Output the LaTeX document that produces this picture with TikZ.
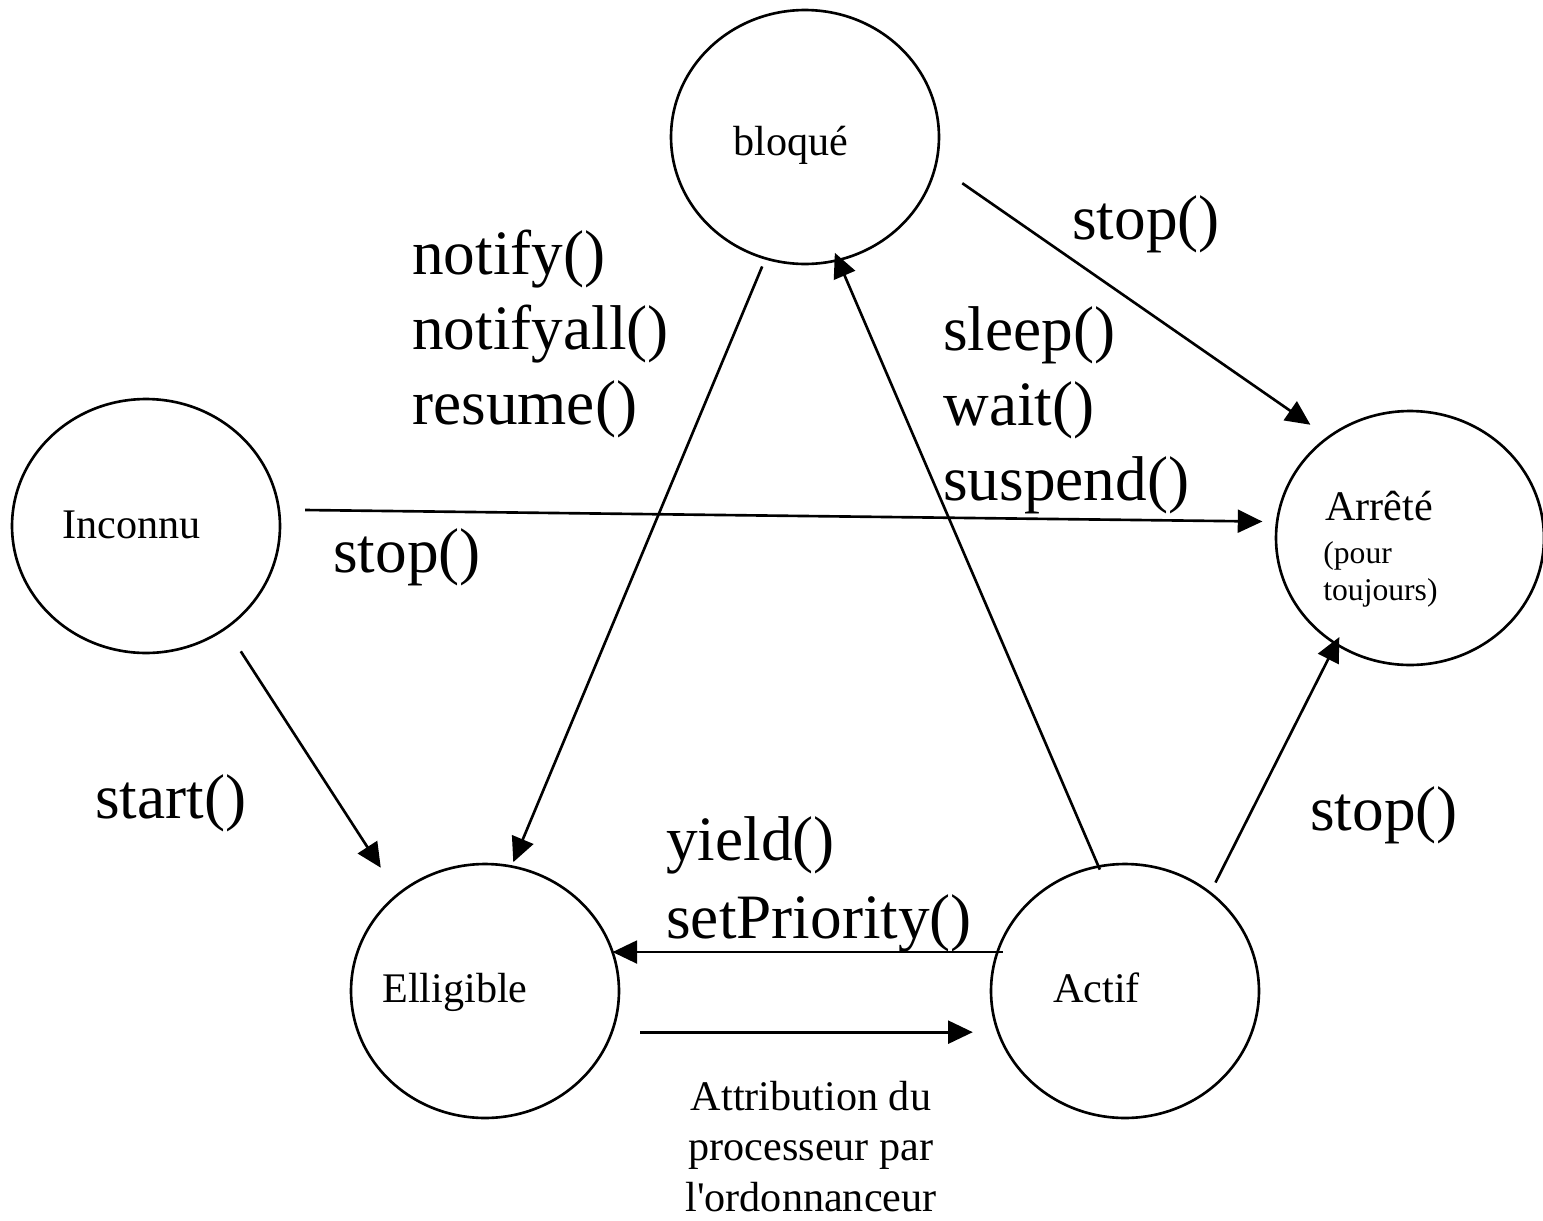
\documentclass[tikz,border=0pt]{standalone}
\usepackage{fontspec}
\setmainfont{Liberation Serif}
\usetikzlibrary{arrows.meta,shapes.geometric}
\begin{document}
\begin{tikzpicture}[x=0.02cm,y=-0.02cm,
  stateshape/.style={draw, ellipse, line width=1.5pt, minimum width=5.36cm,
    minimum height=5.08cm, inner sep=0pt, outer sep=0pt},
  statename/.style={anchor=base west, inner sep=0pt, font=\fontsize{24}{28}\selectfont},
  smallnote/.style={anchor=base west, inner sep=0pt, align=left, font=\fontsize{18}{21}\selectfont},
  method/.style={anchor=base west, inner sep=0pt, align=left, font=\fontsize{36}{42.5}\selectfont},
  caption/.style={anchor=base, inner sep=0pt, align=center, font=\fontsize{24}{28.5}\selectfont},
  trans/.style={line width=1.5pt, -{Triangle[length=14pt,width=13pt]}},
]
\path[use as bounding box] (0,0) rectangle (1543,1221);

% states
\node[stateshape] (bloque)    at (805,137) {};
\node[stateshape] (inconnu)   at (146,526) {};
\node[stateshape] (arrete)    at (1410,538) {};
\node[stateshape] (elligible) at (485,991) {};
\node[stateshape] (actif)     at (1125,991) {};

% state names (multi-line nodes sit on their last baseline)
\node[statename] (bloque-t)    at (733,155)  {bloqué};
\node[statename] (inconnu-t)   at (62,538)   {Inconnu};
\node[statename] (arrete-t)    at (1325,520) {Arrêté};
\node[smallnote] (arrete-n)    at (1323,600) {(pour\\toujours)};
\node[statename] (elligible-t) at (382,1002) {Elligible};
\node[statename] (actif-t)     at (1053,1002) {Actif};

% transitions
\draw[trans, shorten <=5.0pt, shorten >=2.7pt] (bloque.252.9) -- (elligible.78.2);
\draw[trans, shorten <=-1.9pt, shorten >=-4.5pt] (actif.102.8) -- (bloque.-75.4);
\draw[trans, shorten <=18.4pt, shorten >=12.5pt] (bloque.-12.8) -- (arrete.129.2);
\draw[trans, shorten <=15.0pt, shorten >=8.4pt] (inconnu.7.9) -- (arrete.173.7);
\draw[trans, shorten <=15.8pt, shorten >=18.1pt] (inconnu.-52.5) -- (elligible.132.3);
\draw[trans, shorten <=6.7pt, shorten >=-4.3pt] (actif.49.3) -- (arrete.235.8);
\draw[trans, shorten <=-3.1pt] (actif.163.0) -- (elligible.17.0);
\draw[trans, shorten <=16.2pt, shorten >=14.5pt] (elligible.-18.4) -- (actif.198.4);

% transition labels
\node[method] (l-notify)  at (412,424)  {notify()\\notifyall()\\resume()};
\node[method] (l-sleep)   at (943,500)  {sleep()\\wait()\\suspend()};
\node[method] (l-stop1)   at (1072,239) {stop()};
\node[method] (l-stop2)   at (333,572)  {stop()};
\node[method] (l-start)   at (95,818)   {start()};
\node[method, font=\fontsize{36}{44}\selectfont] (l-yield) at (666,938) {yield()\\setPriority()};
\node[method] (l-stop3)   at (1310,830) {stop()};
\node[caption] (l-sched)  at (811,1211) {Attribution du\\processeur par\\l\textquotesingle ordonnanceur};
\end{tikzpicture}
\end{document}
